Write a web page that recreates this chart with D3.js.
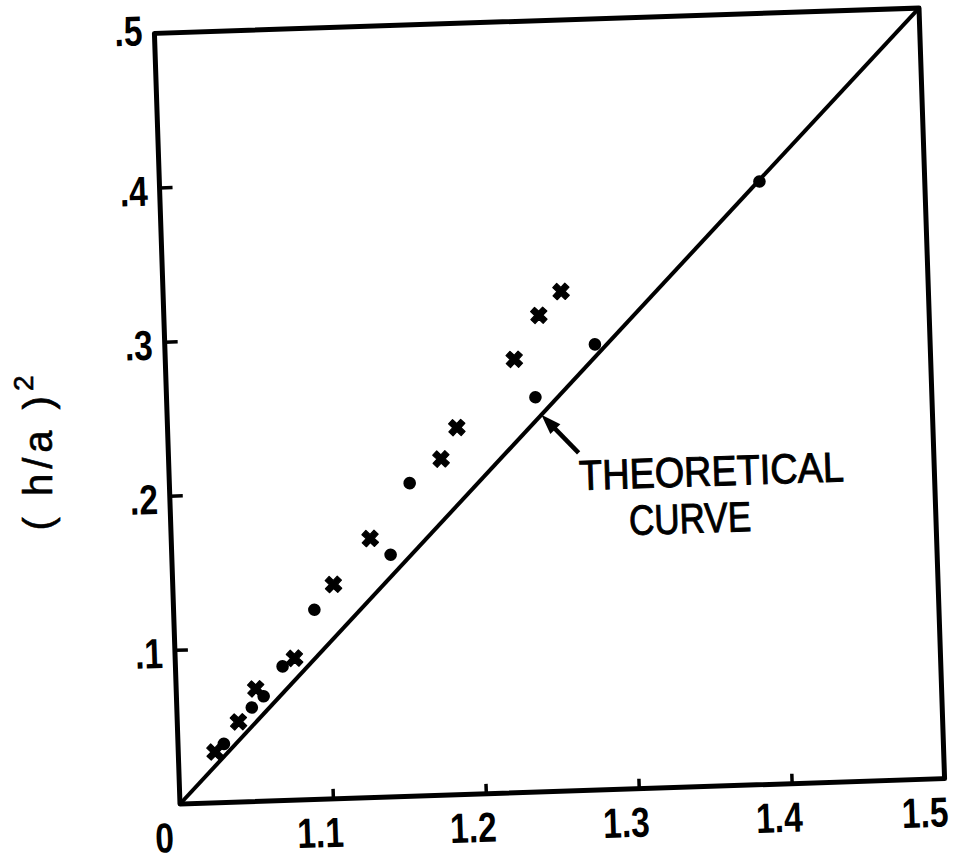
<!DOCTYPE html>
<html>
<head>
<meta charset="utf-8">
<script src="https://cdn.jsdelivr.net/npm/d3@7"></script>
<style>
  html, body { margin: 0; padding: 0; background: #fff; }
  svg { display: block; }
  .tick text { font-family: "Liberation Sans", Arial, sans-serif; font-weight: bold; font-size: 42px; fill: #000; }
</style>
</head>
<body>
<svg id="chart" width="954" height="861"></svg>
<script>
// Axis ranges and tick labels
const xTicks = [1.0, 1.1, 1.2, 1.3, 1.4, 1.5];
const xTickLabels = ["0", "1.1", "1.2", "1.3", "1.4", "1.5"];
const yTicks = [0.1, 0.2, 0.3, 0.4, 0.5];
const yTickLabels = [".1", ".2", ".3", ".4", ".5"];

// Measured points: filled circles
const dotX = [1.030, 1.049, 1.057, 1.070, 1.092, 1.143, 1.157, 1.241, 1.281, 1.392];
const dotY = [0.038, 0.061, 0.068, 0.087, 0.123, 0.157, 0.203, 0.256, 0.289, 0.391];

// Measured points: crosses
const crossX = [1.024, 1.040, 1.052, 1.078, 1.105, 1.130, 1.178, 1.189, 1.228, 1.245, 1.260];
const crossY = [0.033, 0.052, 0.073, 0.092, 0.139, 0.168, 0.218, 0.238, 0.281, 0.309, 0.324];

// Theoretical curve (straight line)
const theoryX = [1.0, 1.5];
const theoryY = [0.0, 0.5];

const svg = d3.select("#chart");
const plotLeft = 167, plotRight = 932, plotTop = 20.5, plotBottom = 791.5;

const x = d3.scaleLinear().domain([1.0, 1.5]).range([plotLeft, plotRight]);
const y = d3.scaleLinear().domain([0, 0.5]).range([plotBottom, plotTop]);

// whole plot sits slightly tilted on the page
const g = svg.append("g").attr("transform", "rotate(-1.9, 550, 406)");

// squeeze tick labels into a condensed look
function condense(sel, k) {
  sel.each(function () {
    const w = this.getComputedTextLength();
    d3.select(this).attr("textLength", w * k).attr("lengthAdjust", "spacingAndGlyphs");
  });
}

// x axis: ticks point up into the plot
const xAxis = d3.axisBottom(x)
  .tickValues(xTicks)
  .tickFormat((d, i) => xTickLabels[i])
  .tickSize(-10)
  .tickSizeOuter(0)
  .tickPadding(0);
const gx = g.append("g").attr("transform", `translate(0,${plotBottom})`).call(xAxis);
gx.select(".domain").remove();
gx.selectAll(".tick line").attr("stroke", "#000").attr("stroke-width", 3.5)
  .filter(d => d === 1.0 || d === 1.5).remove();
gx.selectAll(".tick text").attr("dy", null).attr("y", 48)
  .attr("dx", d => d === 1.0 ? -17 : (d === 1.5 ? -21 : -14))
  .call(condense, 0.8);

// y axis: ticks point right into the plot
const yAxis = d3.axisLeft(y)
  .tickValues(yTicks)
  .tickFormat((d, i) => yTickLabels[i])
  .tickSize(-13)
  .tickSizeOuter(0)
  .tickPadding(0);
const gy = g.append("g").attr("transform", `translate(${plotLeft},0)`).call(yAxis);
gy.select(".domain").remove();
gy.selectAll(".tick line").attr("stroke", "#000").attr("stroke-width", 3.5)
  .filter(d => d === 0.5).remove();
gy.selectAll(".tick text").attr("x", -12).attr("dy", "0.36em").attr("y", d => d === 0.5 ? -4 : 2)
  .call(condense, 0.8);

// frame
g.append("rect")
  .attr("x", plotLeft).attr("y", plotTop)
  .attr("width", plotRight - plotLeft).attr("height", plotBottom - plotTop)
  .attr("fill", "none").attr("stroke", "#000").attr("stroke-width", 5)
  .attr("stroke-linejoin", "round");

// theoretical curve
const line = d3.line().x(d => x(d[0])).y(d => y(d[1]));
g.append("path")
  .datum(theoryX.map((v, i) => [v, theoryY[i]]))
  .attr("d", line)
  .attr("fill", "none").attr("stroke", "#000").attr("stroke-width", 4);

// crosses
const crossPath = d3.symbol().type(d3.symbolCross).size(165)();
g.append("g").selectAll("path")
  .data(crossX.map((v, i) => [v, crossY[i]]))
  .join("path")
  .attr("d", crossPath)
  .attr("transform", d => `translate(${x(d[0])},${y(d[1])}) rotate(45)`)
  .attr("fill", "#000").attr("stroke", "#000").attr("stroke-width", 1.2)
  .attr("stroke-linejoin", "round");

// dots
g.append("g").selectAll("circle")
  .data(dotX.map((v, i) => [v, dotY[i]]))
  .join("circle")
  .attr("cx", d => x(d[0])).attr("cy", d => y(d[1]))
  .attr("r", 6.3).attr("fill", "#000");

// annotation with arrow pointing at the theoretical curve
const tip = [x(1.2445), y(0.2445)];
const tail = [x(1.268), y(0.219)];
const ang = Math.atan2(tail[1] - tip[1], tail[0] - tip[0]);
g.append("line")
  .attr("x1", tail[0]).attr("y1", tail[1])
  .attr("x2", tip[0] + 10 * Math.cos(ang)).attr("y2", tip[1] + 10 * Math.sin(ang))
  .attr("stroke", "#000").attr("stroke-width", 4.5);
const ah = 20, aw = 7;
const ax = tip[0] + ah * Math.cos(ang), ay = tip[1] + ah * Math.sin(ang);
g.append("path")
  .attr("d", `M${tip[0]},${tip[1]}L${ax - aw * Math.sin(ang)},${ay + aw * Math.cos(ang)}L${ax + aw * Math.sin(ang)},${ay - aw * Math.cos(ang)}Z`)
  .attr("fill", "#000");

const noteFont = "'Liberation Sans', Arial, sans-serif";
g.append("text")
  .attr("x", x(1.2678)).attr("y", y(0.1949))
  .attr("font-family", noteFont).attr("font-size", 42)
  .attr("textLength", 265).attr("lengthAdjust", "spacingAndGlyphs")
  .attr("fill", "#000").attr("stroke", "#000").attr("stroke-width", 1)
  .text("THEORETICAL");
g.append("text")
  .attr("x", x(1.2995)).attr("y", y(0.1647))
  .attr("font-family", noteFont).attr("font-size", 42)
  .attr("textLength", 122).attr("lengthAdjust", "spacingAndGlyphs")
  .attr("fill", "#000").attr("stroke", "#000").attr("stroke-width", 1)
  .text("CURVE");

// y axis title
const title = svg.append("text")
  .attr("transform", "translate(52,453) rotate(-90)")
  .attr("text-anchor", "middle")
  .attr("font-family", "'Liberation Sans', Arial, sans-serif")
  .attr("font-size", 40)
  .attr("fill", "#000").attr("stroke", "#000").attr("stroke-width", 0.6);
title.append("tspan").attr("letter-spacing", 5).text("( h/a )");
title.append("tspan").attr("font-size", 28).attr("dy", -19).text("2");
</script>
</body>
</html>
